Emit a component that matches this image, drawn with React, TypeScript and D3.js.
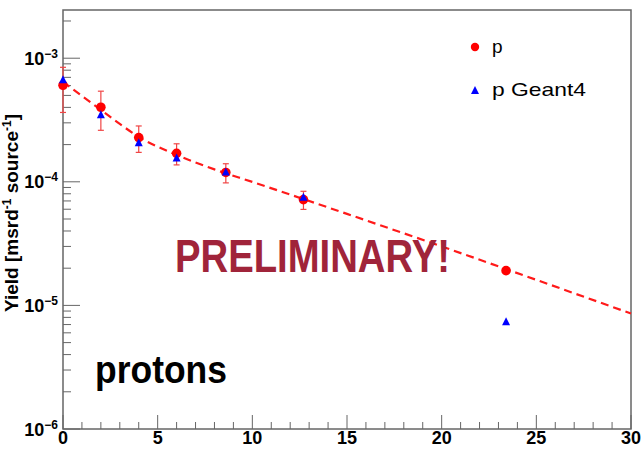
import React from "react";
import * as d3 from "d3";

// measured proton yield vs angle
const angles = [0, 2, 4, 6, 8.6, 12.7, 23.4];
const protonYield = [6.04e-4, 4.01e-4, 2.28e-4, 1.7e-4, 1.19e-4, 7.18e-5, 1.91e-5];
const protonErr = [2.4e-4, 1.4e-4, 0.55e-4, 0.33e-4, 0.21e-4, 1.2e-5, 1.0e-6];
// Geant4 simulation
const geantYield = [6.7e-4, 3.49e-4, 2.07e-4, 1.56e-4, 1.2e-4, 7.5e-5, 7.4e-6];
// dashed fit curve
const fitX = [0, 1, 2, 3, 4, 6, 8, 10, 15, 20, 25, 30];
const fitY = [6.43e-4, 4.95e-4, 3.82e-4, 2.94e-4, 2.31e-4, 1.65e-4, 1.26e-4, 9.98e-5, 5.5e-5, 3.0e-5, 1.61e-5, 8.59e-6];

const xTicks = [0, 5, 10, 15, 20, 25, 30];
const yDecades = [-6, -5, -4, -3];
const legendLabels = ["p", "p Geant4"];

const W = 643;
const H = 450;
const frame = { left: 63, right: 631, top: 10, bottom: 429 };
const axisColor = "#666";
const font = "'Liberation Sans', Arial, Helvetica, sans-serif";

export default function App() {
  const x = d3.scaleLinear().domain([0, 30]).range([frame.left, frame.right]);
  const y = d3
    .scaleLog()
    .domain([1e-6, Math.pow(10, -2.61)])
    .range([frame.bottom, frame.top]);

  const fitLine = d3
    .line<number>()
    .x((d, i) => x(fitX[i]))
    .y((d) => y(d))
    .curve(d3.curveMonotoneX);

  const xMinor = d3.range(0, 31, 1).filter((v) => v % 5 !== 0);
  const yMinor: number[] = [];
  yDecades.forEach((k) => {
    for (let m = 2; m <= 9; m++) {
      const v = m * Math.pow(10, k);
      if (v <= y.domain()[1]) yMinor.push(v);
    }
  });

  const tri = (cx: number, cy: number, s: number) =>
    `M${cx},${cy - s * 0.55}L${cx + s / 2},${cy + s * 0.45}L${cx - s / 2},${cy + s * 0.45}Z`;

  return (
    <svg
      width={W}
      height={H}
      style={{ position: "absolute", left: 0, top: 0, background: "#fff" }}
      fontFamily={font}
    >
      {/* frame */}
      <rect
        x={frame.left}
        y={frame.top}
        width={frame.right - frame.left}
        height={frame.bottom - frame.top}
        fill="none"
        stroke={axisColor}
        strokeWidth={1.5}
      />

      {/* x axis ticks */}
      {xTicks.map((t) => (
        <line key={"xM" + t} x1={x(t)} x2={x(t)} y1={frame.bottom} y2={frame.bottom - 14} stroke={axisColor} />
      ))}
      {xMinor.map((t) => (
        <line key={"xm" + t} x1={x(t)} x2={x(t)} y1={frame.bottom} y2={frame.bottom - 7} stroke={axisColor} />
      ))}
      {xTicks.map((t) => (
        <text key={"xl" + t} x={x(t)} y={444} textAnchor="middle" fontSize={18} fontWeight="bold">
          {t}
        </text>
      ))}

      {/* y axis ticks */}
      {yDecades.map((k) => (
        <line
          key={"yM" + k}
          x1={frame.left}
          x2={frame.left + 17}
          y1={y(Math.pow(10, k))}
          y2={y(Math.pow(10, k))}
          stroke={axisColor}
        />
      ))}
      {yMinor.map((v, i) => (
        <line key={"ym" + i} x1={frame.left} x2={frame.left + 8} y1={y(v)} y2={y(v)} stroke={axisColor} />
      ))}
      {yDecades.map((k) => (
        <text key={"yl" + k} x={58} y={y(Math.pow(10, k)) + 6.5} textAnchor="end" fontSize={18} fontWeight="bold">
          10
          <tspan fontSize={12} dy={-7}>
            {"\u2212" + Math.abs(k)}
          </tspan>
        </text>
      ))}

      {/* y title */}
      <text transform="translate(18,213) rotate(-90)" textAnchor="middle" fontSize={19} fontWeight="bold">
        Yield [msrd
        <tspan fontSize={12} dy={-7}>-1</tspan>
        <tspan dy={7}> source</tspan>
        <tspan fontSize={12} dy={-7}>-1</tspan>
        <tspan dy={7}>]</tspan>
      </text>

      {/* fit */}
      <path
        d={fitLine(fitY) || ""}
        fill="none"
        stroke="#ff1a1a"
        strokeWidth={2.2}
        strokeDasharray="8,5"
      />

      {/* measured points with errors */}
      {angles.map((a, i) => {
        const cx = x(a);
        const top = y(protonYield[i] + protonErr[i]);
        const bot = y(protonYield[i] - protonErr[i]);
        return (
          <g key={"p" + i} stroke="#f04545" strokeWidth={1.2}>
            <line x1={cx} x2={cx} y1={top} y2={bot} />
            <line x1={cx - 3} x2={cx + 3} y1={top} y2={top} />
            <line x1={cx - 3} x2={cx + 3} y1={bot} y2={bot} />
          </g>
        );
      })}
      {angles.map((a, i) => (
        <circle key={"pc" + i} cx={x(a)} cy={y(protonYield[i])} r={4.8} fill="#ff0000" />
      ))}
      {angles.map((a, i) => (
        <path key={"g" + i} d={tri(x(a), y(geantYield[i]), 8)} fill="#0000ff" />
      ))}

      {/* legend */}
      <circle cx={475} cy={47} r={4.2} fill="#ff0000" />
      <text x={492} y={53} fontSize={19}>
        {legendLabels[0]}
      </text>
      <path d={tri(475, 90.5, 8)} fill="#0000ff" />
      <text x={492} y={96} fontSize={19} textLength={94} lengthAdjust="spacingAndGlyphs">
        {legendLabels[1]}
      </text>

      {/* annotations */}
      <text
        x={175}
        y={272}
        fontSize={47}
        fontWeight="bold"
        fill="#a0243a"
        textLength={275}
        lengthAdjust="spacingAndGlyphs"
      >
        PRELIMINARY!
      </text>
      <text x={95} y={383} fontSize={39} fontWeight="bold" textLength={132} lengthAdjust="spacingAndGlyphs">
        protons
      </text>
    </svg>
  );
}
